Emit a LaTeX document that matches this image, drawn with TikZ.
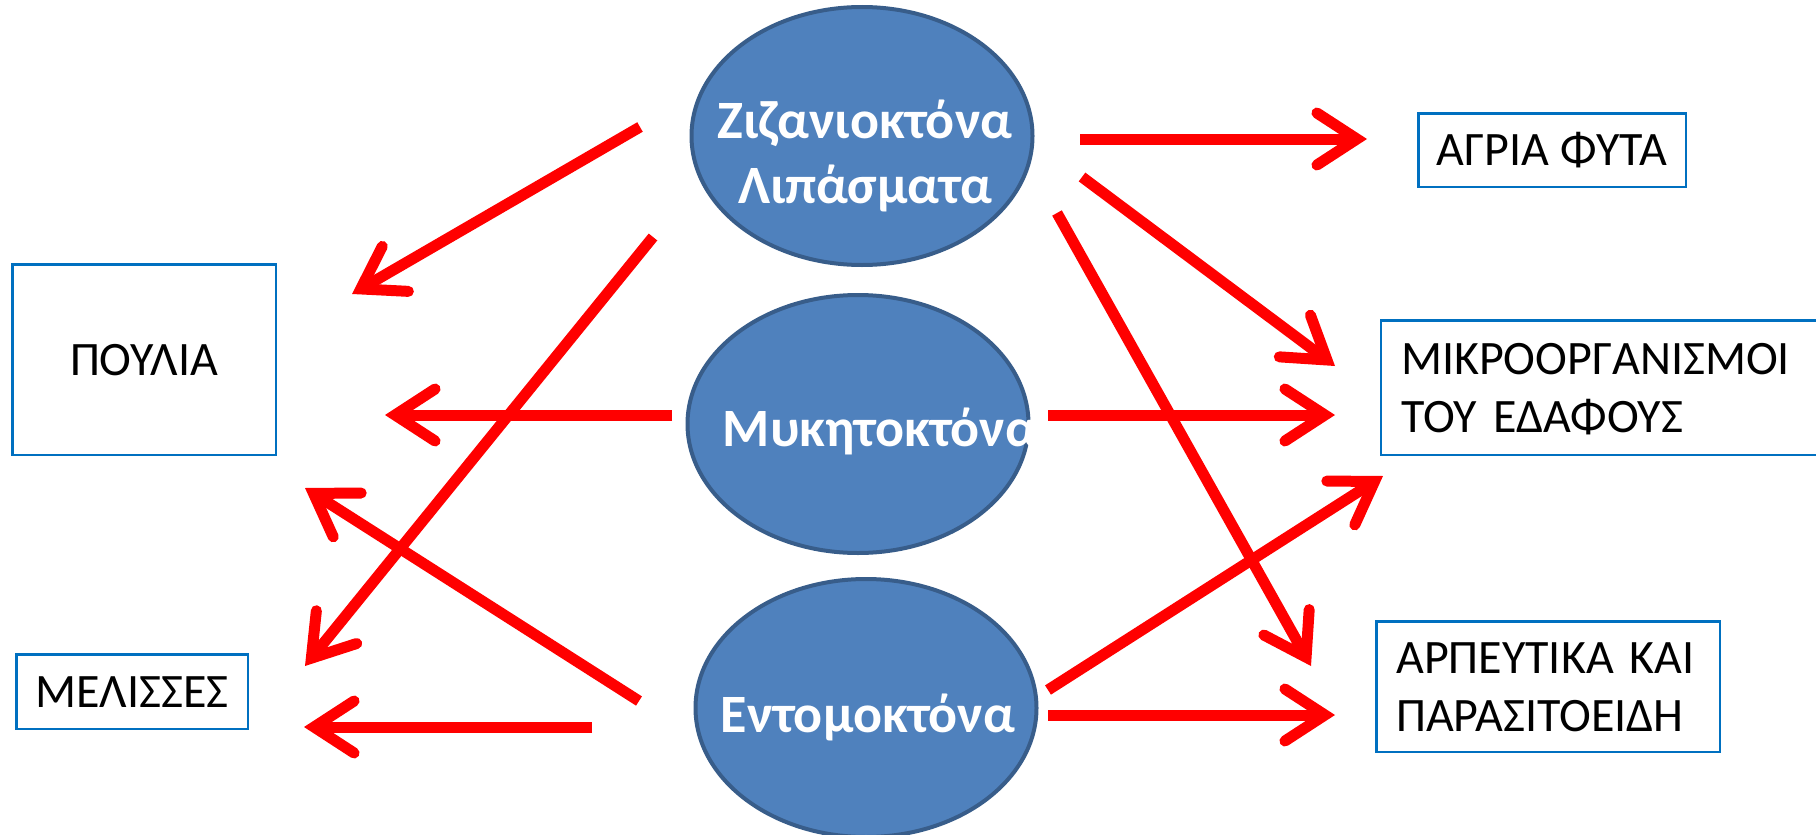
\documentclass[tikz,border=0pt]{standalone}
\usepackage{fontspec}
\setmainfont{Carlito}
\usetikzlibrary{arrows.meta,shapes.geometric}
\definecolor{ellfill}{RGB}{79,129,189}
\definecolor{elldraw}{RGB}{56,93,138}
\definecolor{boxblue}{RGB}{0,112,192}
\definecolor{arrred}{RGB}{255,0,0}
\begin{document}
\begin{tikzpicture}[x=1pt,y=-1pt,
  ell/.style={ellipse, fill=ellfill, draw=elldraw, line width=4pt, minimum width=341pt, minimum height=258pt, inner sep=0pt},
  etext/.style={text=white, font=\bfseries\fontsize{54}{65}\selectfont, align=center, inner sep=0pt},
  box/.style={draw=boxblue, line width=2.5pt, font=\fontsize{48}{58}\selectfont, inner sep=0pt, text height=31pt, text depth=0pt},
  twoline/.style={text depth=58pt, align=left},
  arr/.style={draw=arrred, line width=11pt, -{Straight Barb[length=40pt,width=52pt,line cap=round,line join=miter]}}
]
\useasboundingbox (0,0) rectangle (1816,835);

% pesticide groups
\node[ell] (e1) at (862,136) {};
\node[ell] (e2) at (858,424) {};
\node[ell] (e3) at (866,708) {};
\node[etext, anchor=base] (t1) at (865,203) {Ζιζανιοκτόνα\\Λιπάσματα};
\node[etext, anchor=base] (t2) at (880,446) {Μυκητοκτόνα};
\node[etext, anchor=base] (t3) at (868,732) {Εντομοκτόνα};

% affected organisms
\node[box, minimum width=263.5pt, minimum height=190.5pt] (poulia) at (144,359.5) {ΠΟΥΛΙΑ};
\node[box, minimum width=231.5pt, minimum height=74.5pt] (melisses) at (132,691.5) {ΜΕΛΙΣΣΕΣ};
\node[box, minimum width=267.5pt, minimum height=73.5pt] (agria) at (1552,150) {ΑΓΡΙΑ ΦΥΤΑ};
\node[box, twoline, text width=409pt, minimum width=449pt, minimum height=134.5pt] (mikro) at (1605.5,387.5) {ΜΙΚΡΟΟΡΓΑΝΙΣΜΟΙ\\ΤΟΥ ΕΔΑΦΟΥΣ};
\node[box, twoline, text width=303.5pt, minimum width=343.5pt, minimum height=130.5pt] (arpeftika) at (1548,686.5) {ΑΡΠΕΥΤΙΚΑ ΚΑΙ\\ΠΑΡΑΣΙΤΟΕΙΔΗ};

% connector end points
\coordinate (e1poulia) at (640,127);   \coordinate (poulia1) at (352,294);
\coordinate (e1melisses) at (653,237); \coordinate (melisses1) at (305,666);
\coordinate (e2poulia) at (672,415);   \coordinate (poulia2) at (385,415);
\coordinate (e3poulia) at (639,701);   \coordinate (poulia3) at (305,488);
\coordinate (e3melisses) at (592,727); \coordinate (melisses3) at (304,727);
\coordinate (e1agria) at (1080,139);   \coordinate (agria1) at (1367,139);
\coordinate (e1mikro) at (1082,177);   \coordinate (mikro1) at (1335,366);
\coordinate (e1arpeft) at (1057,213);  \coordinate (arpeft1) at (1311,666);
\coordinate (e2mikro) at (1048,415);   \coordinate (mikro2) at (1335,415);
\coordinate (e3mikro) at (1048,690);   \coordinate (mikro3) at (1383,476);
\coordinate (e3arpeft) at (1048,715);  \coordinate (arpeft3) at (1335,715);

% connectors
\draw[arr] (e1poulia) -- (poulia1);
\draw[arr] (e1melisses) -- (melisses1);
\draw[arr] (e2poulia) -- (poulia2);
\draw[arr] (e3poulia) -- (poulia3);
\draw[arr] (e3melisses) -- (melisses3);
\draw[arr] (e1agria) -- (agria1);
\draw[arr] (e1mikro) -- (mikro1);
\draw[arr] (e1arpeft) -- (arpeft1);
\draw[arr] (e2mikro) -- (mikro2);
\draw[arr] (e3mikro) -- (mikro3);
\draw[arr] (e3arpeft) -- (arpeft3);
\end{tikzpicture}
\end{document}
